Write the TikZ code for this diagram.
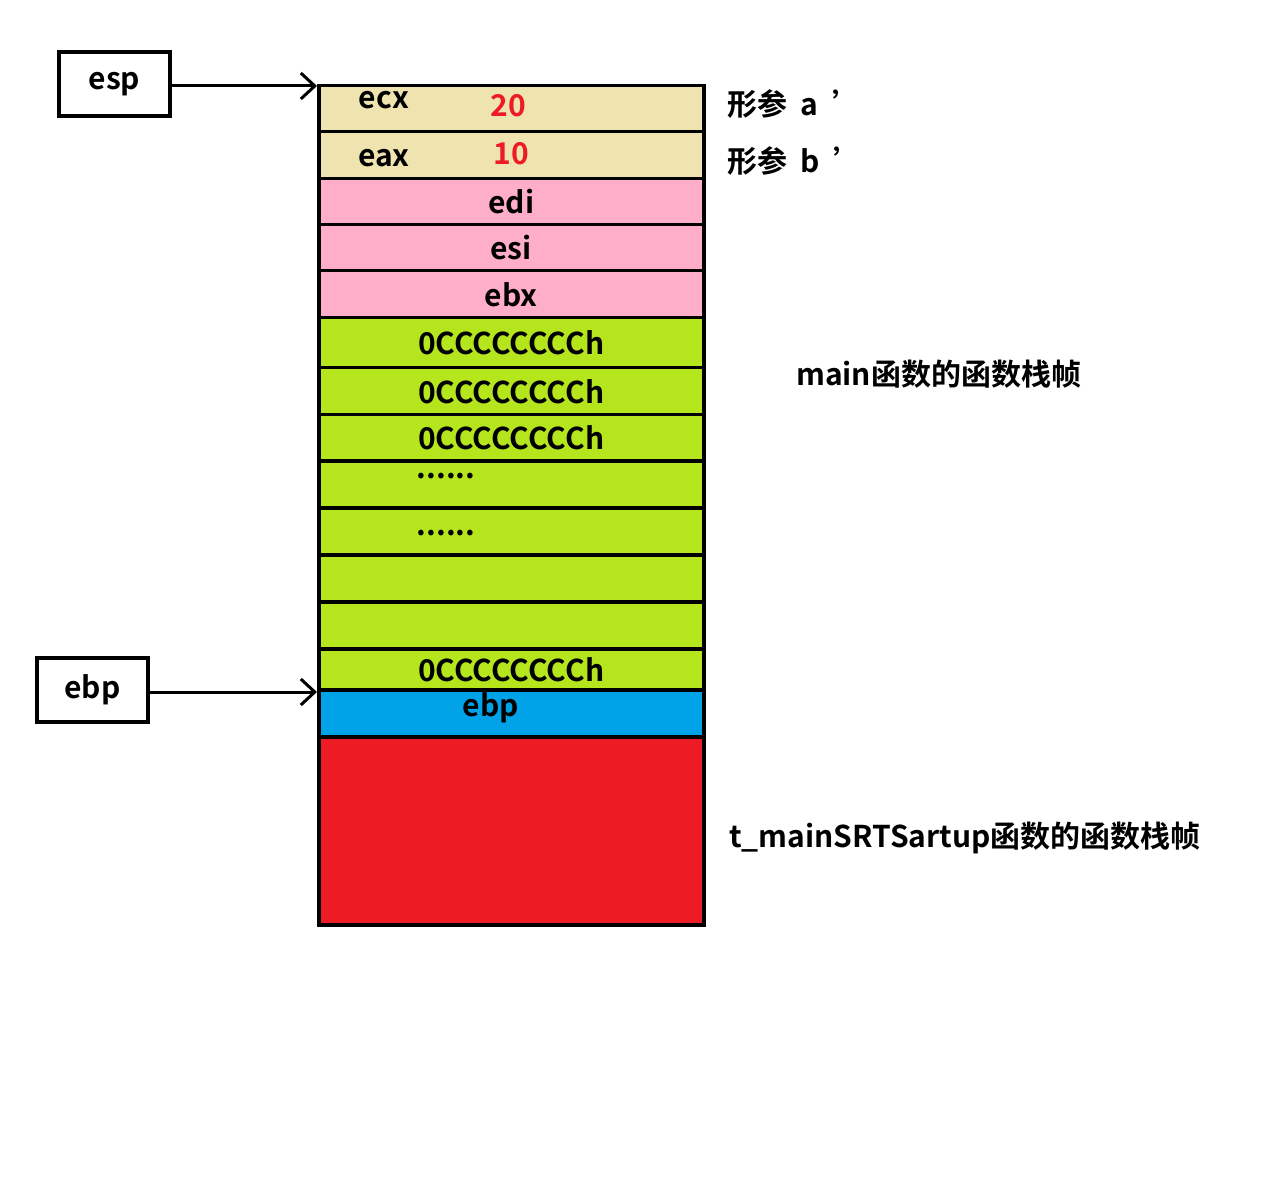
\documentclass[tikz,border=0pt]{standalone}
\usepackage{fontspec}
\setmainfont{Noto Sans CJK SC}[BoldFont={Noto Sans CJK SC Bold}]
\usetikzlibrary{arrows.meta}
\definecolor{beige}{RGB}{239,228,176}
\definecolor{pinkc}{RGB}{255,174,201}
\definecolor{greenc}{RGB}{181,230,29}
\definecolor{bluec}{RGB}{0,162,232}
\definecolor{redc}{RGB}{237,28,36}
\begin{document}
\begin{tikzpicture}[x=1pt,y=-1pt,
  cell/.style={draw=black,line width=3.5pt,minimum width=385pt,anchor=north west,inner sep=0pt,font=\fontsize{30}{30}\selectfont\bfseries},
  lab/.style={font=\fontsize{30}{30}\selectfont\bfseries,inner sep=0pt},
  reg/.style={draw=black,line width=3.5pt,minimum width=111pt,minimum height=64pt,font=\fontsize{30}{30}\selectfont\bfseries},
  ptr/.style={line width=3pt,-{Straight Barb[length=14pt,width=26pt,line width=3pt]}}]
\useasboundingbox (0,0) rectangle (1278,1190);
\fill[white] (0,0) rectangle (1278,1190);
\node[cell,fill=beige,minimum height=46pt] (r1) at (317,84) {};
\node[cell,fill=beige,minimum height=47pt] (r2) at (317,130) {};
\node[cell,fill=pinkc,minimum height=46pt] (r3) at (317,177) {edi};
\node[cell,fill=pinkc,minimum height=46pt] (r4) at (317,223) {esi};
\node[cell,fill=pinkc,minimum height=47pt] (r5) at (317,269) {ebx};
\node[cell,fill=greenc,minimum height=50pt] (r6) at (317,316) {0CCCCCCCCh};
\node[cell,fill=greenc,minimum height=47pt] (r7) at (317,366) {0CCCCCCCCh};
\node[cell,fill=greenc,minimum height=46pt] (r8) at (317,413) {0CCCCCCCCh};
\node[cell,fill=greenc,minimum height=47pt] (r9) at (317,459) {};
\node[cell,fill=greenc,minimum height=47pt] (r10) at (317,506) {};
\node[cell,fill=greenc,minimum height=47pt] (r11) at (317,553) {};
\node[cell,fill=greenc,minimum height=47pt] (r12) at (317,600) {};
\node[cell,fill=greenc,minimum height=41pt] (r13) at (317,647) {0CCCCCCCCh};
\node[cell,fill=bluec,minimum height=47pt] (r14) at (317,688) {};
\node[lab] (ebpt) at (491,708) {ebp};
\node[cell,fill=redc,minimum height=188pt] (r15) at (317,735) {};
\node[lab] (ecx) at (384,100) {ecx};
\node[lab,text=redc] (n20) at (508,106) {20};
\node[lab] (eax) at (384,158) {eax};
\node[lab,text=redc] (n10) at (511,154) {10};
\node[lab] (d1) at (446,476) {......};
\node[lab] (d2) at (446,533) {......};
\node[lab,anchor=west] (pa) at (727,104) {形参\ \ a\ \ ’};
\node[lab,anchor=west] (pb) at (727,161) {形参\ \ b\ \ ’};
\node[lab,anchor=west] (mf) at (796,374) {main函数的函数栈帧};
\node[lab,anchor=west] (tf) at (729,838) {t\_mainSRTSartup函数的函数栈帧};
\node[reg] (esp) at (114.5,84) {esp};
\node[reg] (ebp) at (92.5,690) {ebp};
\coordinate (espT) at (317,86);
\coordinate (ebpT) at (317,692);
\draw[ptr] (esp.east|-espT) -- (espT);
\draw[ptr] (ebp.east|-ebpT) -- (ebpT);
\end{tikzpicture}
\end{document}
